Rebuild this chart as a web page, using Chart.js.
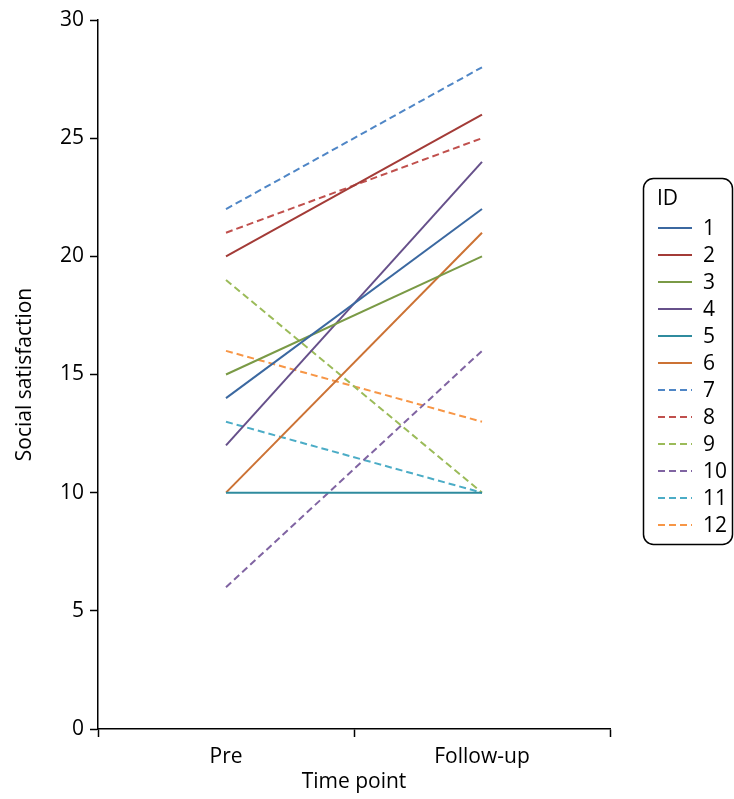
<!DOCTYPE html>
<html lang="en">
<head>
  <meta charset="UTF-8" />
  <title>Social satisfaction</title>
  <script src="https://cdn.jsdelivr.net/npm/chart.js"></script>
  <style>
    html, body { margin: 0; padding: 0; background: #fff; }
    #wrap { width: 734px; height: 799px; position: relative; }
  </style>
</head>
<body>
  <div id="wrap"><canvas id="chart"></canvas></div>

  <script>
    const timePoints = ["Pre", "Follow-up"];
    const ids = ["1", "2", "3", "4", "5", "6", "7", "8", "9", "10", "11", "12"];
    const preValues = [14, 20, 15, 12, 10, 10, 22, 21, 19, 6, 13, 16];
    const followValues = [22, 26, 20, 24, 10, 21, 28, 25, 10, 16, 10, 13];
    const colours = ["#3b68a0", "#a33b37", "#7a9a46", "#66508a", "#2f8b9e", "#cc7234",
                     "#4f86c6", "#c0504d", "#9bbb59", "#8064a2", "#4bacc6", "#f79646"];
    const dashed = [false, false, false, false, false, false, true, true, true, true, true, true];

    const FONT = "'Open Sans', sans-serif";
    const SIZE = 21;

    // legend drawn in its own rounded box right of the plot
    const boxLegend = {
      id: "boxLegend",
      afterDraw(chart) {
        const ctx = chart.ctx;
        ctx.save();
        ctx.strokeStyle = "#000";
        ctx.lineWidth = 1.5;
        ctx.beginPath();
        ctx.roundRect(643.5, 178.5, 89, 366, 10);
        ctx.stroke();
        ctx.fillStyle = "#000";
        ctx.font = SIZE + "px " + FONT;
        ctx.textBaseline = "middle";
        ctx.fillText("ID", 657, 199);
        chart.data.datasets.forEach((ds, i) => {
          const y = 228 + i * 27;
          ctx.strokeStyle = ds.borderColor;
          ctx.lineWidth = 2;
          ctx.setLineDash(ds.borderDash);
          ctx.beginPath();
          ctx.moveTo(658, y);
          ctx.lineTo(692, y);
          ctx.stroke();
          ctx.setLineDash([]);
          ctx.fillStyle = "#000";
          ctx.fillText(ds.label, 703, y + 1);
        });
        ctx.restore();
      }
    };

    const datasets = ids.map((id, i) => ({
      label: id,
      data: [preValues[i], followValues[i]],
      borderColor: colours[i],
      backgroundColor: colours[i],
      borderWidth: 2,
      borderDash: dashed[i] ? [7, 4] : [],
      pointRadius: 0,
      tension: 0
    }));

    new Chart(document.getElementById("chart"), {
      type: "line",
      data: { labels: timePoints, datasets },
      options: {
        responsive: true,
        maintainAspectRatio: false,
        animation: false,
        layout: { padding: { top: 20, right: 124, left: 8, bottom: 0 } },
        plugins: {
          legend: { display: false },
          tooltip: { enabled: false }
        },
        scales: {
          x: {
            offset: true,
            grid: { offset: true, drawOnChartArea: false, tickLength: 8, color: "#000", tickWidth: 1.5 },
            border: { color: "#000", width: 1.5 },
            ticks: { color: "#000", font: { family: FONT, size: SIZE }, padding: 7 },
            title: { display: true, text: "Time point", color: "#000", font: { family: FONT, size: SIZE }, padding: { top: 0 } },
            afterFit: s => { s.height = 70; }
          },
          y: {
            min: 0,
            max: 30,
            ticks: { stepSize: 5, color: "#000", font: { family: FONT, size: SIZE }, padding: 6 },
            grid: { drawOnChartArea: false, tickLength: 8, color: "#000", tickWidth: 1.5 },
            border: { color: "#000", width: 1.5 },
            title: { display: true, text: "Social satisfaction", color: "#000", font: { family: FONT, size: SIZE } },
            afterFit: s => { s.width = 90; }
          }
        }
      },
      plugins: [boxLegend]
    });
  </script>
</body>
</html>
